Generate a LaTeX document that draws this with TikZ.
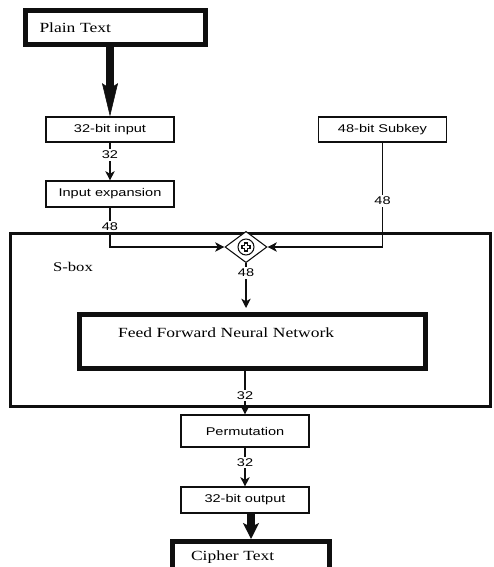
\documentclass[tikz,border=0pt]{standalone}
\usepackage{fontspec}
\setmainfont{Liberation Serif}[FakeStretch=1.25]
\newfontfamily\labelfont{Liberation Sans}[FakeStretch=1.3]
\usetikzlibrary{shapes.geometric, arrows.meta, positioning, calc}
\definecolor{Ink}{RGB}{15,15,15}

\begin{document}
\begin{tikzpicture}[x=0.75pt, y=-0.75pt,
        plainbox/.style={draw=Ink, line width=0.8pt, minimum width=96pt, minimum height=19pt, inner sep=0pt, font=\labelfont\fontsize{8.4}{10}\selectfont},
        heavybox/.style={draw=Ink, line width=3.75pt, inner ysep=0pt, align=left, font=\fontsize{10.5}{12}\selectfont},
        bits/.style={fill=white, inner sep=1.2pt, font=\labelfont\fontsize{8.4}{10}\selectfont},
        flow/.style={draw=Ink, line width=0.8pt, -{Stealth[length=7pt, width=7pt, inset=2pt]}},
        bigflow/.style={draw=Ink, line width=6pt, -{Stealth[length=25pt, width=12pt, inset=4pt, line width=0.4pt]}}
    ]
        \useasboundingbox (0,0) rectangle (493,567);

        \node[draw=Ink, line width=2.25pt, minimum width=360pt, minimum height=129.75pt, inner sep=0pt] (sbox) at (250.5,320) {};
        \node[font=\fontsize{10}{12}\selectfont] (sboxname) at (73,266.5) {S-box};

        \node[heavybox, minimum width=135pt, minimum height=25.5pt, text width=114pt, inner xsep=10.5pt] (plain) at (115.5,27.5) {Plain Text};
        \node[plainbox, minimum height=18.75pt] (in32) at (110,129.5) {32-bit input};
        \node[plainbox, minimum height=19.5pt] (expand) at (110,194) {Input expansion};
        \node[plainbox, minimum height=18.75pt] (subkey) at (382.5,129.5) {48-bit Subkey};
        \node[diamond, draw=Ink, line width=0.8pt, minimum width=31.5pt, minimum height=23.5pt, inner sep=0pt, fill=white] (xor) at (246,247) {};
        \node[circle, draw=Ink, line width=0.8pt, minimum size=12pt, inner sep=0pt] (xorsign) at (xor) {};
        \draw[Ink, line width=3.4pt] ($(xor)+(-4.6,0)$) -- ($(xor)+(4.6,0)$) ($(xor)+(0,-4.6)$) -- ($(xor)+(0,4.6)$);
        \draw[white, line width=1.6pt] ($(xor)+(-3.4,0)$) -- ($(xor)+(3.4,0)$) ($(xor)+(0,-3.4)$) -- ($(xor)+(0,3.4)$);
        \node[heavybox, minimum width=259.5pt, minimum height=40.5pt, text width=201.7pt, inner xsep=28.9pt, text height=8pt, text depth=13.8pt] (ffnn) at (252.5,341.5) {Feed Forward Neural Network};
        \node[plainbox, minimum height=24pt] (perm) at (245,431) {Permutation};
        \node[plainbox, minimum height=19.5pt] (output) at (245,500) {32-bit output};
        \node[heavybox, minimum width=117.75pt, minimum height=28.9pt, text width=89.95pt, inner xsep=13.9pt, text height=7pt, text depth=7.2pt] (cipher) at (251,560.75) {Cipher Text};

        \draw[bigflow] (plain.south -| in32.north) -- (in32.north);
        \draw[flow] (in32) -- node[bits, pos=0.33] {32} (expand);
        \draw[flow] (expand) |- node[bits, pos=0.24] {48} (xor);
        \draw[flow] (subkey) |- node[bits, pos=0.28] {48} (xor);
        \draw[flow, shorten >=3pt] (xor) -- node[bits, pos=0.2] {48} (xor |- ffnn.north);
        \draw[flow] (perm.north |- ffnn.south) -- node[bits, pos=0.57] {32} (perm);
        \draw[flow] (perm) -- node[bits, pos=0.38] {32} (output);
        \draw[draw=Ink, line width=6pt, -{Stealth[length=12pt, width=12pt, inset=3pt, line width=0.4pt]}] (cipher.north |- output.south) -- (cipher.north);
    \end{tikzpicture}
\end{document}
